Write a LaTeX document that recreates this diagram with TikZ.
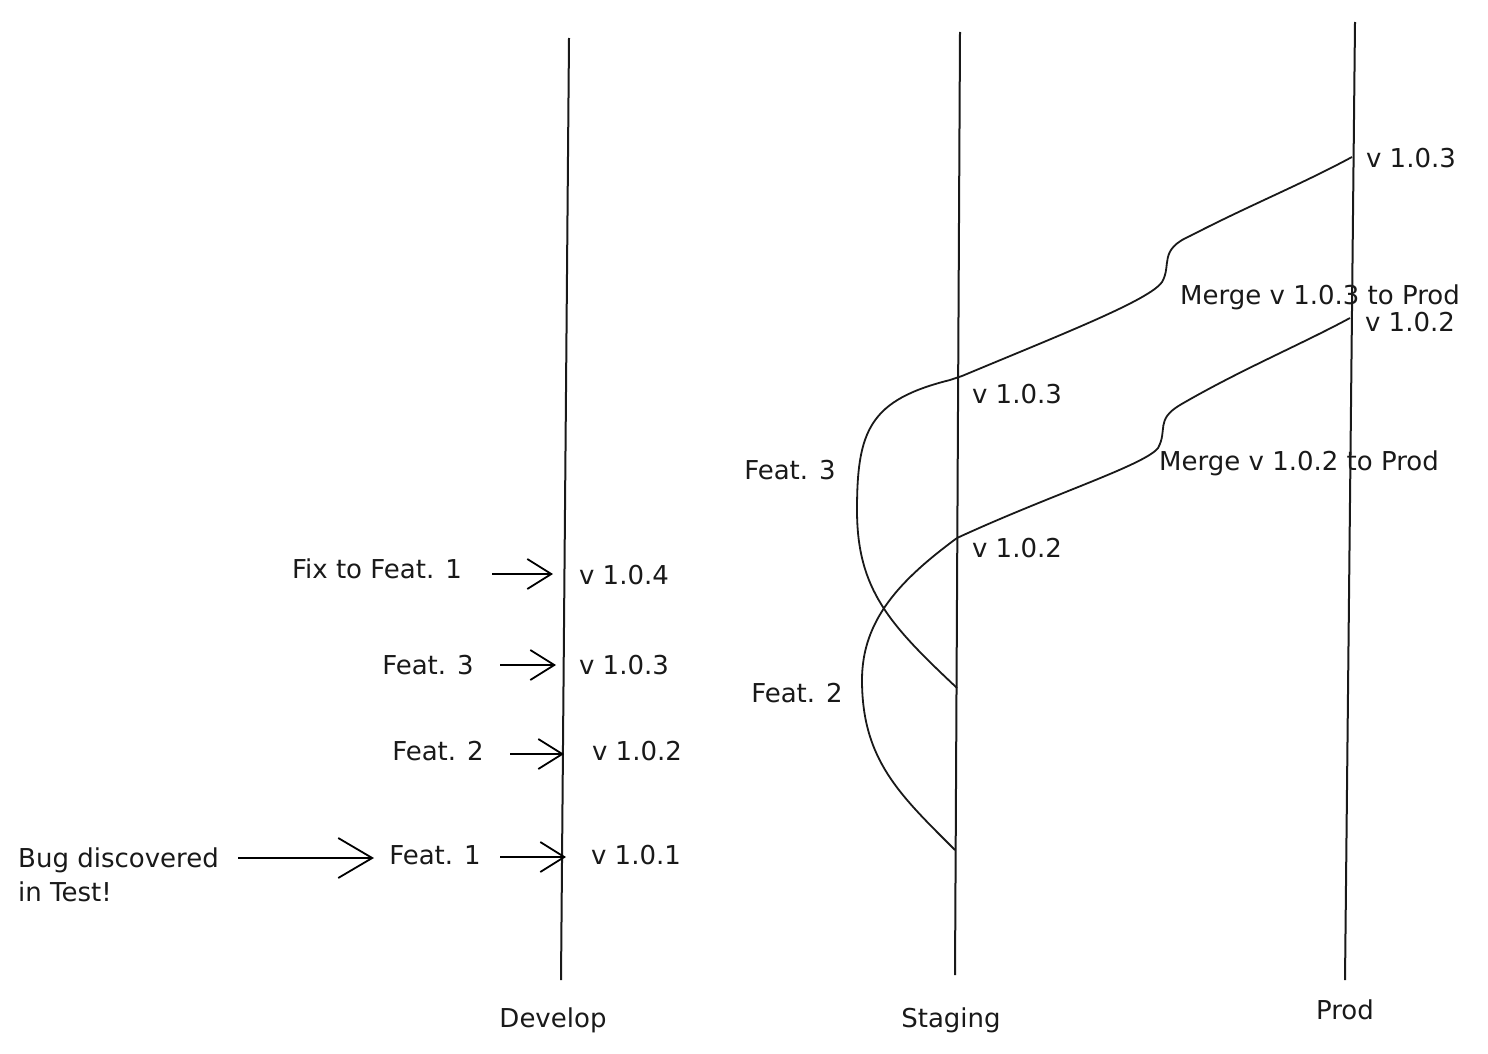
\documentclass[tikz,border=0pt]{standalone}
\usepackage{fontspec}
\setmainfont{DejaVu Sans}
\usetikzlibrary{arrows.meta}
\begin{document}
\begin{tikzpicture}[x=1pt,y=-1pt,
  lane/.style={line width=2pt,black!90},
  curve/.style={line width=1.8pt,black!90},
  lbl/.style={font=\fontsize{26}{34}\selectfont,inner sep=0pt,align=left,text=black!90},
  arr/.style={line width=1.8pt,-{Straight Barb[length=24pt,width=30pt,line width=1.8pt]}},
  bigarr/.style={line width=1.8pt,-{Straight Barb[length=34pt,width=40pt,line width=1.8pt]}}]
\useasboundingbox (0,0) rectangle (1488,1054);
% lanes
\coordinate (devT) at (569,38);  \coordinate (devB) at (561,980);
\coordinate (stgT) at (960,32);  \coordinate (stgB) at (955,975);
\coordinate (prdT) at (1355,22); \coordinate (prdB) at (1345,980);
\draw[lane] (devT) -- (devB);
\draw[lane] (stgT) -- (stgB);
\draw[lane] (prdT) -- (prdB);
\node[lbl] (develop) at (553,1020) {Develop};
\node[lbl] (staging) at (951,1020) {Staging};
\node[lbl] (prod) at (1345,1010) {Prod};
% develop side
\node[lbl] (fix) at (377,569) {Fix to Feat. 1};
\node[lbl] (df3) at (428,665) {Feat. 3};
\node[lbl] (df2) at (438,751) {Feat. 2};
\node[lbl] (df1) at (435,855) {Feat. 1};
\node[lbl,anchor=west] (bug) at (18,875) {Bug discovered\\in Test!};
\coordinate (dv4) at (553,574);
\coordinate (dv3) at (556,665);
\coordinate (dv2) at (564,754);
\coordinate (dv1) at (566,857);
\coordinate (a4) at (492,574);
\coordinate (a3) at (500,665);
\coordinate (a2) at (510,754);
\coordinate (a1) at (500,857);
\coordinate (ab) at (238,858);
\coordinate (abt) at (374,858);
\draw[arr] (a4) -- (dv4);
\draw[arr] (a3) -- (dv3);
\draw[arr] (a2) -- (dv2);
\draw[arr] (a1) -- (dv1);
\draw[bigarr] (ab) -- (abt);
\node[lbl] (v104) at (624,575) {v 1.0.4};
\node[lbl] (v103) at (624,665) {v 1.0.3};
\node[lbl] (v102) at (637,751) {v 1.0.2};
\node[lbl] (v101) at (636,855) {v 1.0.1};
% staging side
\coordinate (s3in) at (957,688);
\coordinate (s3) at (962,376);
\coordinate (s2in) at (955,850);
\coordinate (s2) at (957,538);
\coordinate (p3) at (1352,157);
\coordinate (p2) at (1350,318);
\draw[curve] (s3in) .. controls (890,625) and (857,590) .. (857,510)
  .. controls (857,430) and (870,400) .. (950,380) -- (s3);
\draw[curve] (s3) .. controls (1060,335) and (1150,300) .. (1162,282)
  .. controls (1172,265) and (1158,250) .. (1190,236)
  .. controls (1250,205) and (1300,185) .. (p3);
\draw[curve] (s2in) .. controls (900,795) and (862,760) .. (862,680)
  .. controls (862,620) and (900,580) .. (s2);
\draw[curve] (s2) .. controls (1050,495) and (1145,465) .. (1158,448)
  .. controls (1168,430) and (1155,420) .. (1180,405)
  .. controls (1240,370) and (1300,345) .. (p2);
\node[lbl] (sf3) at (790,470) {Feat. 3};
\node[lbl] (sf2) at (797,693) {Feat. 2};
\node[lbl] (sv103) at (1017,394) {v 1.0.3};
\node[lbl] (sv102) at (1017,548) {v 1.0.2};
\node[lbl] (m3) at (1320,297) {Merge v 1.0.3 to Prod};
\node[lbl] (m2) at (1299,463) {Merge v 1.0.2 to Prod};
\node[lbl] (pv103) at (1411,158) {v 1.0.3};
\node[lbl] (pv102) at (1410,322) {v 1.0.2};
\end{tikzpicture}
\end{document}
